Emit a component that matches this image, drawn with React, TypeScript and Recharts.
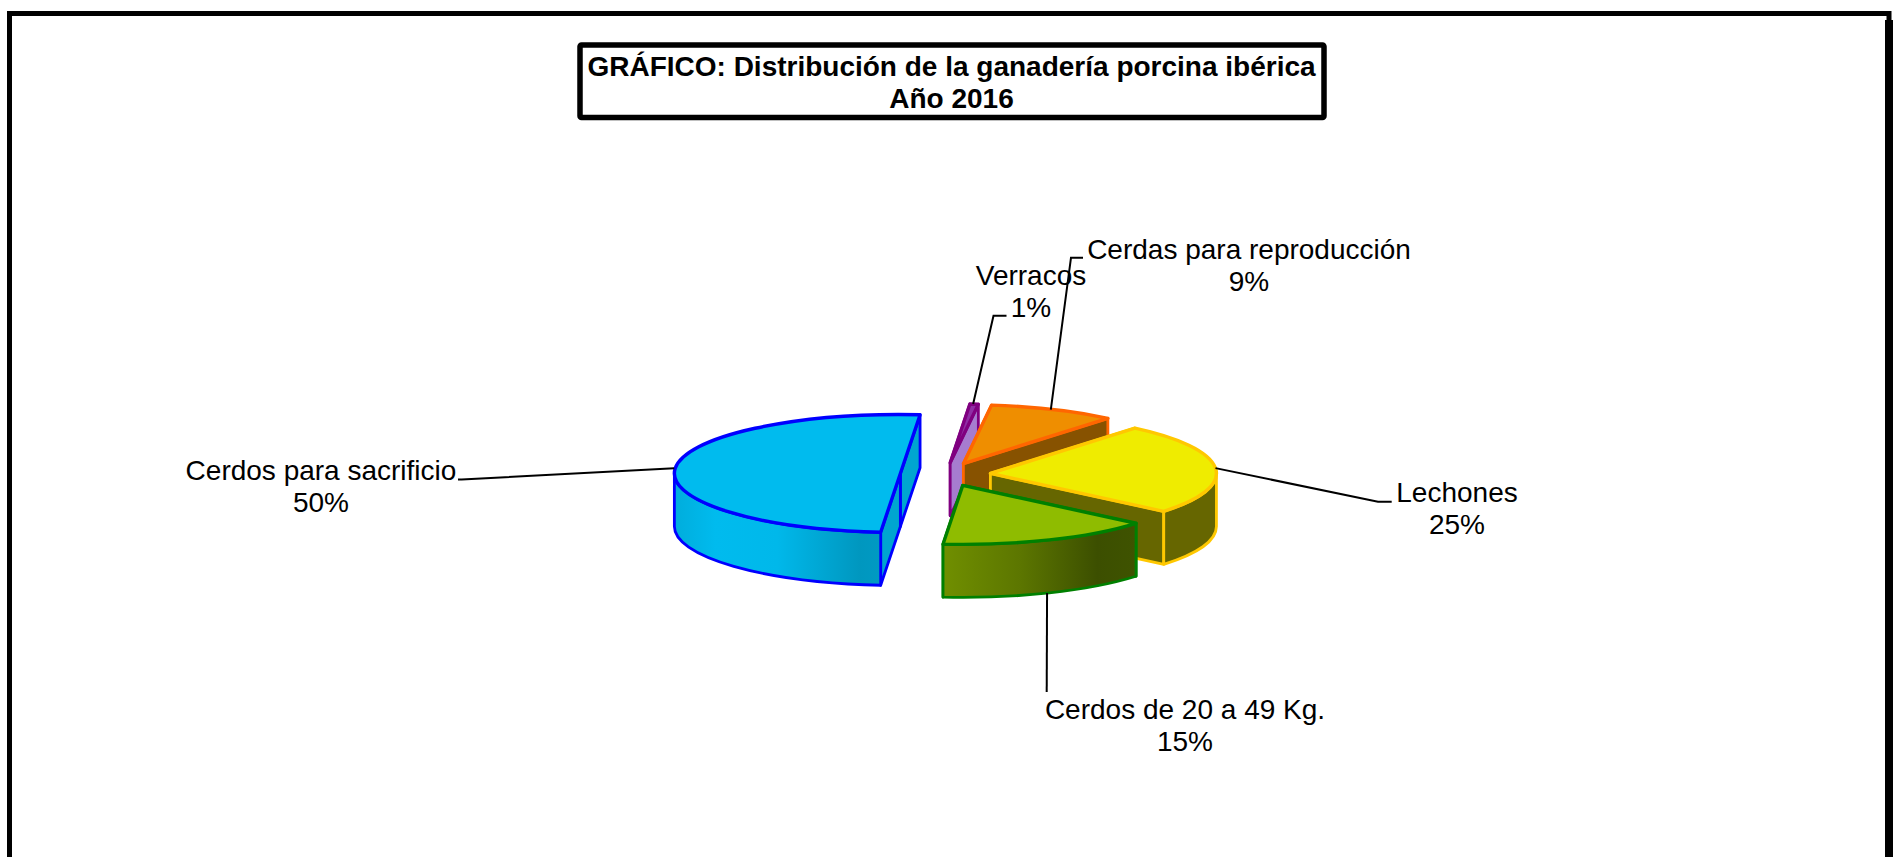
import React from "react";
import { PieChart, Pie } from "recharts";

// ---- data ----
const categories = [
  "Cerdos para sacrificio",
  "Verracos",
  "Cerdas para reproducción",
  "Lechones",
  "Cerdos de 20 a 49 Kg.",
];
const shares = [50, 0.6, 9.05, 25.05, 15.3];
const percentLabels = ["50%", "1%", "9%", "25%", "15%"];
const titleLines = ["GRÁFICO: Distribución de la ganadería porcina ibérica", "Año 2016"];

// ---- layout ----
const W = 1899;
const H = 857;
const CX = 945.4;
const CY = 474.5;
const RX = 226;
const TILT = 59 / 226;
const EXPLODE = 0.2;
const DEPTH = 53;
const FONT = "'Liberation Sans', Arial, sans-serif";
const LABEL_SIZE = 28;

// bend points of each leader, then the label centre and first baseline
const leaderBends = [
  [[461.7, 479.5], [458, 479.5]],
  [[993.5, 315.7], [1006.5, 315.7]],
  [[1071, 257.7], [1083, 257.7]],
  [[1378, 501.7], [1391.7, 501.7]],
  [[1046.7, 692], [1046.7, 692]],
];
const leaderNudges = [-1, -1, -2.5, 0, -2.3];
const labelCentres = [321, 1031, 1249, 1457, 1185];
const labelBaselines = [479.5, 284.5, 258.5, 501.7, 718.5];

// ---- styles ----
type Look = { top: string; stroke: string; wall: string; rim: [number, string][] };
const looks: Look[] = [
  {
    top: "#00BBEE",
    stroke: "#0000FF",
    wall: "#00A5D0",
    rim: [[0, "#00ADDC"], [0.2, "#00BBEE"], [0.5, "#00B8EA"], [0.9, "#0097BF"], [1, "#009AC3"]],
  },
  { top: "#8F2FA5", stroke: "#800080", wall: "#A67CCF", rim: [[0, "#A67CCF"], [1, "#A67CCF"]] },
  { top: "#EF8E00", stroke: "#FF6600", wall: "#875200", rim: [[0, "#875200"], [1, "#875200"]] },
  { top: "#EFEC00", stroke: "#FFC800", wall: "#666600", rim: [[0, "#666600"], [1, "#666600"]] },
  {
    top: "#8FBC00",
    stroke: "#008000",
    wall: "#6A8800",
    rim: [[0, "#708F00"], [0.4, "#5C7600"], [0.8, "#3C4F00"], [1, "#3F5300"]],
  },
];

const rad = (d: number) => (d * Math.PI) / 180;
const tableRows = categories.map((name, i) => ({ name, value: shares[i] }));

function apexOf(p: any) {
  const m = rad(p.midAngle);
  const r = p.outerRadius;
  return { x: p.cx + EXPLODE * r * Math.cos(m), y: p.cy - EXPLODE * r * TILT * Math.sin(m) };
}

function rimPoint(a: { x: number; y: number }, r: number, deg: number) {
  return { x: a.x + r * Math.cos(rad(deg)), y: a.y - r * TILT * Math.sin(rad(deg)) };
}

// angle range of the rim which faces the viewer (angles run clockwise, i.e. decreasing)
function frontArc(start: number, end: number): [number, number] | null {
  for (const hi of [0, -360, -720]) {
    const upper = Math.min(start, hi);
    const lower = Math.max(end, hi - 180);
    if (upper > lower) return [upper, lower];
  }
  return null;
}

function Slice3D(props: any) {
  const { startAngle, endAngle, outerRadius: r, name } = props;
  const idx = categories.indexOf(name ?? props.payload?.name);
  const look = looks[idx];
  const a = apexOf(props);
  const ry = r * TILT;
  const p1 = rimPoint(a, r, startAngle);
  const p2 = rimPoint(a, r, endAngle);
  const large = Math.abs(startAngle - endAngle) > 180 ? 1 : 0;
  const topPath = `M${a.x},${a.y} L${p1.x},${p1.y} A${r},${ry} 0 ${large} 1 ${p2.x},${p2.y} Z`;

  const walls = [p1, p2]
    .map((p) => ({
      y: (p.y + a.y) / 2,
      d: `M${a.x},${a.y} L${p.x},${p.y} L${p.x},${p.y + DEPTH} L${a.x},${a.y + DEPTH} Z`,
    }))
    .sort((u, v) => u.y - v.y);

  const front = frontArc(startAngle, endAngle);
  let rimPath = "";
  if (front) {
    const f1 = rimPoint(a, r, front[0]);
    const f2 = rimPoint(a, r, front[1]);
    rimPath =
      `M${f1.x},${f1.y} A${r},${ry} 0 0 1 ${f2.x},${f2.y} ` +
      `L${f2.x},${f2.y + DEPTH} A${r},${ry} 0 0 0 ${f1.x},${f1.y + DEPTH} Z`;
  }
  const gid = `rim-${idx}`;
  return (
    <g>
      <defs>
        <linearGradient id={gid} x1="0" y1="0" x2="1" y2="0">
          {look.rim.map(([o, c], i) => (
            <stop key={i} offset={o} stopColor={c} />
          ))}
        </linearGradient>
      </defs>
      {walls.map((w, i) => (
        <path key={i} d={w.d} fill={look.wall} stroke={look.stroke} strokeWidth={2.8} strokeLinejoin="round" />
      ))}
      {rimPath && (
        <path d={rimPath} fill={`url(#${gid})`} stroke={look.stroke} strokeWidth={2.8} strokeLinejoin="round" />
      )}
      <path d={topPath} fill={look.top} stroke={look.stroke} strokeWidth={3.4} strokeLinejoin="round" />
    </g>
  );
}

function LeaderLabel(props: any) {
  const idx = categories.indexOf(props.name ?? props.payload?.name);
  const a = apexOf(props);
  const anchor = rimPoint(a, props.outerRadius, props.midAngle);
  const startY = Math.sin(rad(props.midAngle)) < -0.5 ? anchor.y + DEPTH : anchor.y;
  const pts = [[anchor.x + leaderNudges[idx], startY], ...leaderBends[idx]];
  const base = labelBaselines[idx];
  return (
    <g>
      <polyline points={pts.map((q) => q.join(",")).join(" ")} fill="none" stroke="#000" strokeWidth={2} />
      <text x={labelCentres[idx]} y={base} textAnchor="middle" fontFamily={FONT} fontSize={LABEL_SIZE} fill="#000">
        {categories[idx]}
      </text>
      <text x={labelCentres[idx]} y={base + 32.5} textAnchor="middle" fontFamily={FONT} fontSize={LABEL_SIZE} fill="#000">
        {percentLabels[idx]}
      </text>
    </g>
  );
}

export default function App() {
  return (
    <div style={{ position: "absolute", left: 0, top: 0, width: W, height: H, overflow: "hidden", background: "#fff" }}>
      <PieChart width={W} height={H} margin={{ top: 0, right: 0, bottom: 0, left: 0 }}>
        <path d={`M9.5,${H + 10} L9.5,13.5 L1889,13.5 L1889,${H + 10}`} fill="none" stroke="#000" strokeWidth={5} />
        <rect x={1885} y={20} width={8} height={H} fill="#000" />
        <rect x={580} y={45} width={744} height={72.5} rx={1.5} fill="#fff" stroke="#000" strokeWidth={5.5} />
        <text x={951.5} y={75.7} textAnchor="middle" fontFamily={FONT} fontSize={28} fontWeight="bold" fill="#000">
          {titleLines[0]}
        </text>
        <text x={951.5} y={108} textAnchor="middle" fontFamily={FONT} fontSize={28} fontWeight="bold" fill="#000">
          {titleLines[1]}
        </text>
        <Pie
          data={tableRows}
          dataKey="value"
          nameKey="name"
          cx={CX}
          cy={CY}
          innerRadius={0}
          outerRadius={RX}
          startAngle={-95}
          endAngle={-455}
          paddingAngle={0}
          isAnimationActive={false}
          shape={Slice3D}
          label={LeaderLabel}
          labelLine={false}
        />
      </PieChart>
    </div>
  );
}
